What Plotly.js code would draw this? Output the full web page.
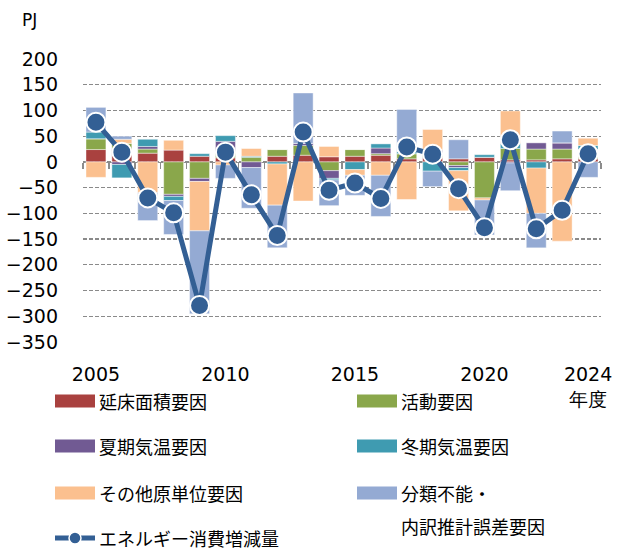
<!DOCTYPE html>
<html><head><meta charset="utf-8">
<script src="https://cdn.plot.ly/plotly-3.0.1.min.js"></script>
<style>html,body{margin:0;padding:0;background:#fff}#chart{width:619px;height:550px}</style>
</head><body><div id="chart"></div>
<script>
// ---- data (PJ) ----
const years       = [2005,2006,2007,2008,2009,2010,2011,2012,2013,2014,2015,2016,2017,2018,2019,2020,2021,2022,2023,2024];
const floorArea   = [  24,  24,  17,  23,  11,   8,   0,  11,  13,  10,  11,  13,   6,   8,   6,   9,   4,   4,   6,   6];
const activity    = [  21,  12,   8, -63, -32,  12,   9,  13,  19, -17,  13,   3,  10,   9,  -7, -70,  22,  21,  19,  18];
const summerTemp  = [   0,  -5,   5,  -4,  -6,  20, -11,   0,   4, -15,   0,  11,   0,   6,  -4,   0,  -2,  12,  12,   0];
const winterTemp  = [  13, -26,  14,  -8,   5,  11,   2,  -4,   0,  -3, -15,   8,   4, -18,  -6,   5,  10, -12,   0,   8];
const otherUnit   = [ -30,   8, -60,  19, -96,  -6,  15, -80, -76,  20, -11, -26, -73,  40, -78,  -4,  63, -88,-154,  14];
const unclassified= [  48,   6, -54, -66,-161, -26, -79, -83,  98, -50, -39, -80,  82, -30,  37, -68, -54, -67,  23, -30];
const totalChange = [  77,  19, -70, -99,-279,  19, -64,-143,  58, -55, -41, -71,  29,  15, -52,-128,  43,-130, -94,  16];

const seriesNames = ['延床面積要因','活動要因','夏期気温要因','冬期気温要因','その他原単位要因','分類不能・<br>内訳推計誤差要因'];
const lineName = 'エネルギー消費増減量';
const xTickVals = [2005,2010,2015,2020,2024];
const xTickText = ['2005','2010','2015','2020','2024<br>年度'];
const yUnit = 'PJ';

// ---- styling ----
const colors = ['#A9413F','#8AA74B','#715A93','#3F9BB1','#FBC08F','#94AAD3'];
const lineColor = '#335F94';
const W=619,H=550,L=83,R=18,T=59,B=208;
const pw=W-L-R, ph=H-T-B;
const pxX = x => (x-L)/pw;
const pxY = y => (H-B-y)/ph;

const seriesVals = [floorArea, activity, summerTemp, winterTemp, otherUnit, unclassified];
const traces = seriesVals.map((v,i)=>({
  type:'bar', x:years, y:v, name:seriesNames[i], width:0.77,
  marker:{color:colors[i], line:{color:'rgba(255,255,255,0.55)', width:0.8}},
  showlegend:false, hoverinfo:'skip'
}));
traces.push({
  type:'scatter', mode:'lines+markers', x:years, y:totalChange, name:lineName,
  line:{color:lineColor, width:5},
  marker:{color:lineColor, size:19, line:{color:'#ffffff', width:2}},
  showlegend:false, hoverinfo:'skip'
});
// helper trace to bind the zero-line axis
traces.push({type:'scatter', mode:'markers', x:[years[0]], y:[0], xaxis:'x2', yaxis:'y',
  marker:{opacity:0}, showlegend:false, hoverinfo:'skip'});

const boundaries = years.map(y=>y-0.5).concat([years[years.length-1]+0.5]);
const yMin=-350, yMax=200;

const tickFont = {family:'DejaVu Sans, Verdana, sans-serif', size:19, color:'#000'};
const jpFont = {family:'Noto Sans CJK JP, sans-serif', size:18, color:'#000'};

// manual legend
const legendItems = [
  {i:0, sx:55, sy:401}, {i:1, sx:357, sy:401},
  {i:2, sx:55, sy:446}, {i:3, sx:357, sy:446},
  {i:4, sx:55, sy:493}, {i:5, sx:357, sy:493}
];
const shapes = [];
const annotations = [];
legendItems.forEach(it=>{
  shapes.push({type:'rect', xref:'paper', yref:'paper',
    x0:pxX(it.sx), x1:pxX(it.sx+40), y0:pxY(it.sy-6.5), y1:pxY(it.sy+6.5),
    fillcolor:colors[it.i], line:{width:0}});
  const parts = seriesNames[it.i].split('<br>');
  parts.forEach((p,k)=>{
    annotations.push({xref:'paper', yref:'paper', x:pxX(it.sx+43), y:pxY(it.sy+k*33),
      xanchor:'left', yanchor:'middle', text:p, showarrow:false, font:jpFont, borderpad:0});
  });
});
// line legend
const lineLegY = 538;
shapes.push({type:'line', xref:'paper', yref:'paper', x0:pxX(55), x1:pxX(95), y0:pxY(lineLegY), y1:pxY(lineLegY),
  line:{color:lineColor, width:5}});
shapes.push({type:'circle', xref:'paper', yref:'paper', x0:pxX(69), x1:pxX(81), y0:pxY(lineLegY+6), y1:pxY(lineLegY-6),
  fillcolor:lineColor, line:{color:'#fff', width:1.5}});
annotations.push({xref:'paper', yref:'paper', x:pxX(98), y:pxY(lineLegY), xanchor:'left', yanchor:'middle',
  text:lineName, showarrow:false, font:jpFont, borderpad:0});
annotations.push({xref:'paper', yref:'paper', x:pxX(20), y:pxY(20), xanchor:'left', yanchor:'middle',
  text:yUnit, showarrow:false, font:{family:'DejaVu Sans, Verdana, sans-serif', size:17, color:'#000'}});

const layout = {
  width:W, height:H, margin:{l:L, r:R, t:T, b:B, pad:0},
  paper_bgcolor:'#fff', plot_bgcolor:'#fff',
  barmode:'relative', bargap:0,
  showlegend:false,
  xaxis:{range:[years[0]-0.5, years[years.length-1]+0.5], showgrid:false, zeroline:false, showline:false,
    tickmode:'array', tickvals:xTickVals, ticktext:xTickText, ticks:'', tickfont:tickFont,
    ticklabelstandoff:19, fixedrange:true},
  xaxis2:{overlaying:'x', anchor:'free', position:(0-yMin)/(yMax-yMin), side:'bottom',
    range:[years[0]-0.5, years[years.length-1]+0.5], showgrid:false, zeroline:false,
    showline:true, linecolor:'#8c8c8c', linewidth:1.5,
    tickmode:'array', tickvals:boundaries, ticks:'outside', ticklen:6, tickwidth:1.5, tickcolor:'#8c8c8c',
    showticklabels:false, layer:'below traces'},
  yaxis:{range:[yMin, yMax], dtick:50, tick0:0, showgrid:true, gridcolor:'#8a8a8a', gridwidth:1.3,
    griddash:'4px,2px', zeroline:false, showline:false, ticks:'', tickfont:tickFont,
    ticklabelstandoff:24, fixedrange:true},
  shapes:shapes, annotations:annotations
};
Plotly.newPlot('chart', traces, layout, {staticPlot:true, displayModeBar:false});
</script></body></html>
